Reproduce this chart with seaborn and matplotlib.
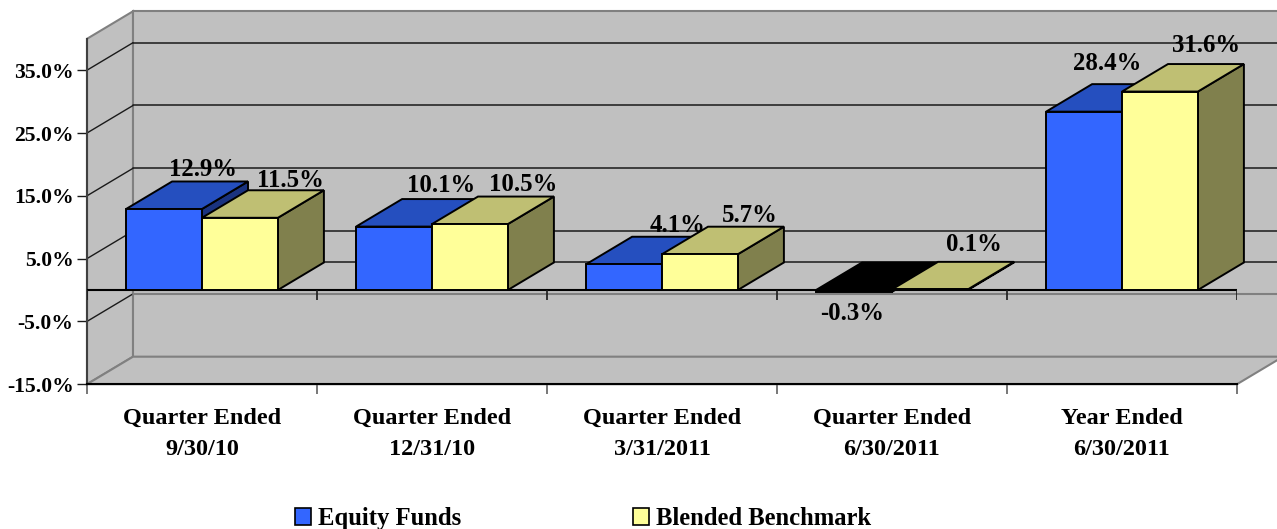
"""Fund returns as an Excel-style pseudo-3D clustered bar chart."""

import matplotlib
matplotlib.use('Agg')
import matplotlib.pyplot as plt
import pandas as pd
import seaborn as sns
from matplotlib.patches import Patch, Polygon

categories = [
    'Quarter Ended\n9/30/10',
    'Quarter Ended\n12/31/10',
    'Quarter Ended\n3/31/2011',
    'Quarter Ended\n6/30/2011',
    'Year Ended\n6/30/2011',
]
equity_funds = [12.9, 10.1, 4.1, -0.3, 28.4]
blended_benchmark = [11.5, 10.5, 5.7, 0.1, 31.6]
series_names = ['Equity Funds', 'Blended Benchmark']
y_ticks = [-15, -5, 5, 15, 25, 35]

# label offsets from the top of the bar, in pixels
equity_offsets = [(39, 39), (47, 41), (54, 39), (-2, -23), (23, 48)]
benchmark_offsets = [(50, 37), (53, 40), (50, 39), (44, 45), (46, 46)]

FRONT = {'Equity Funds': '#3366FF', 'Blended Benchmark': '#FFFF99'}
TOP = {'Equity Funds': '#254FBF', 'Blended Benchmark': '#BFBF73'}
SIDE = {'Equity Funds': '#1A3380', 'Blended Benchmark': '#80804D'}
WALL = '#C0C0C0'
WALL_EDGE = '#808080'

# depth of the fake 3D box, in data units
DX = 0.2
DY = 4.38
X0, X1 = -0.5, 4.5
Y0, Y1 = -15, 40

sns.set_style('white')
plt.rcParams['font.family'] = ['Liberation Serif', 'DejaVu Serif']
plt.rcParams['font.weight'] = 'bold'
plt.rcParams['text.color'] = 'black'

W, H = 1277, 529
fig = plt.figure(figsize=(W / 100, H / 100), dpi=100)
ax = fig.add_axes([87 / W, (H - 384.2) / H, 1150 / W, 345.4 / H])

df = pd.DataFrame({
    'category': categories * 2,
    'series': [series_names[0]] * 5 + [series_names[1]] * 5,
    'value': equity_funds + blended_benchmark,
})
sns.barplot(
    data=df, x='category', y='value', hue='series', hue_order=series_names,
    palette=FRONT, saturation=1, width=0.66, gap=0, edgecolor='black',
    linewidth=1.4, legend=False, ax=ax, zorder=3
)
bars = sorted(ax.patches, key=lambda p: p.get_x())
ax.set_xlim(X0, X1)
ax.set_ylim(Y0, Y1)
ax.set_xlabel('')
ax.set_ylabel('')

# walls and floor
walls = [
    [(X0, Y0), (X0 + DX, Y0 + DY), (X0 + DX, Y1 + DY), (X0, Y1)],
    [(X0 + DX, Y0 + DY), (X1 + DX, Y0 + DY), (X1 + DX, Y1 + DY), (X0 + DX, Y1 + DY)],
    [(X0, Y0), (X1, Y0), (X1 + DX, Y0 + DY), (X0 + DX, Y0 + DY)],
]
for pts in walls:
    ax.add_patch(Polygon(pts, closed=True, facecolor=WALL, edgecolor=WALL_EDGE,
                         linewidth=1.5, clip_on=False, zorder=0.5))

# gridlines on the back and left walls
for y in y_ticks:
    back_color = WALL_EDGE if y < 0 else '#1a1a1a'
    if y > Y0:
        ax.plot([X0, X0 + DX], [y, y + DY], color='#1a1a1a', lw=1, clip_on=False, zorder=1)
        ax.plot([X0 + DX, X1 + DX], [y + DY, y + DY], color=back_color,
                lw=1.5 if y < 0 else 1.1, clip_on=False, zorder=1)
ax.plot([X0 + DX, X1 + DX], [DY, DY], color='#1a1a1a', lw=1.1, clip_on=False, zorder=1)

# top and side faces of each bar
values = [v for pair in zip(equity_funds, blended_benchmark) for v in pair]
names = series_names * 5
offsets = [o for pair in zip(equity_offsets, benchmark_offsets) for o in pair]

for i, (bar, value, name, off) in enumerate(zip(bars, values, names, offsets)):
    left = bar.get_x()
    right = left + bar.get_width()
    top = max(value, 0)
    low = min(value, 0)
    negative = value < 0
    base_z = 3 + i * 0.1
    face = [(left, top), (right, top), (right + DX, top + DY), (left + DX, top + DY)]
    side = [(right, low), (right + DX, low + DY), (right + DX, top + DY), (right, top)]
    ax.add_patch(Polygon(side, closed=True, facecolor='black' if negative else SIDE[name],
                         edgecolor='black', linewidth=1.4, clip_on=False, zorder=base_z))
    ax.add_patch(Polygon(face, closed=True, facecolor='black' if negative else TOP[name],
                         edgecolor='black', linewidth=1.4, clip_on=False, zorder=base_z))
    bar.set_zorder(base_z + 0.05)
    if negative:
        bar.set_facecolor('black')
    ax.annotate(f'{value:.1f}%', xy=((left + right) / 2, top), xytext=off,
                textcoords='offset pixels', ha='center', va='center',
                fontsize=17.8, fontweight='bold', color='black', zorder=10,
                annotation_clip=False)

# axis at zero, with its ticks
ax.hlines(0, X0, X1, color='black', lw=1.5, zorder=2.5, clip_on=False)
ax.vlines([X0 + k for k in range(6)], -1.6, 0, color='#1a1a1a', lw=1.2, zorder=2.5)

sns.despine(ax=ax, top=True, right=True)
ax.spines['left'].set_color('#404040')
ax.spines['left'].set_linewidth(1.5)
ax.spines['bottom'].set_color('black')
ax.spines['bottom'].set_linewidth(1.5)
ax.spines['left'].set_zorder(2)
ax.spines['bottom'].set_zorder(2)

ax.set_yticks(y_ticks)
ax.set_yticklabels([f'{t:.1f}%' for t in y_ticks], fontsize=15.6, fontweight='bold')
ax.tick_params(axis='y', left=True, length=7.2, width=1, color='#1a1a1a', labelcolor='black', pad=2.5)

ax.set_xticks(range(5))
ax.set_xticklabels(categories, fontsize=17.5, fontweight='bold', linespacing=1.65)
ax.set_xticks([X0 + k for k in range(6)], minor=True)
ax.tick_params(axis='x', which='major', bottom=False, length=0, labelcolor='black', pad=17.2)
ax.tick_params(axis='x', which='minor', bottom=True, length=7.2, width=1.2, color='#606060')

handles = [Patch(facecolor=FRONT[n], edgecolor='black', linewidth=1.2, label=n) for n in series_names]
fig.legend(
    handles=handles, loc='lower left', bbox_to_anchor=(295 / W, -1 / H), bbox_transform=fig.transFigure,
    ncols=2, frameon=False, fontsize=17.7, handlelength=0.65, handleheight=0.65,
    handletextpad=0.28, columnspacing=7.0, borderaxespad=0, borderpad=0, labelspacing=0
)

plt.savefig('out.png', dpi=100)
plt.close()
